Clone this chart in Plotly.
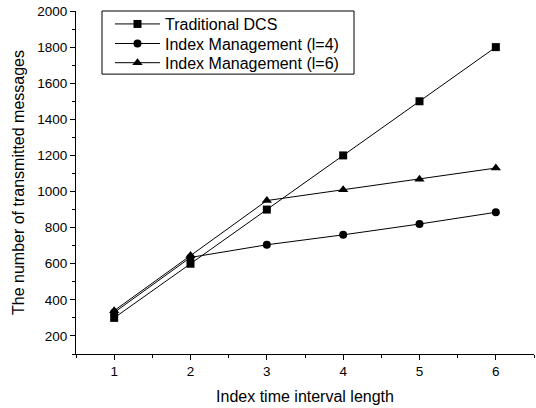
import plotly.graph_objects as go

x_vals = [1, 2, 3, 4, 5, 6]
dcs = [300, 600, 900, 1200, 1500, 1800]
im_l4 = [330, 635, 705, 760, 820, 885]
im_l6 = [340, 645, 950, 1010, 1068, 1130]
names = ["Traditional DCS", "Index Management (l=4)", "Index Management (l=6)"]
symbols = ["square", "circle", "triangle-up"]
sizes = [8, 8, 9]
legend_ids = ["legend", "legend2", "legend3"]
legend_rows_y = [0.962, 0.905, 0.849]

fig = go.Figure()
for name, ys, sym, sz, lg in zip(names, [dcs, im_l4, im_l6], symbols, sizes, legend_ids):
    fig.add_trace(go.Scatter(
        x=x_vals, y=ys, name=name, mode="lines+markers",
        line=dict(color="black", width=1),
        marker=dict(symbol=sym, size=sz, color="black"),
        legend=lg,
    ))

font = "Liberation Sans, Arial, sans-serif"

def legend_cfg(yv):
    return dict(
        x=0.0742, y=yv, xanchor="left", yanchor="middle",
        bgcolor="rgba(0,0,0,0)", borderwidth=0,
        font=dict(size=16, family=font), itemwidth=45,
    )

fig.update_layout(
    width=536, height=408,
    margin=dict(l=76, r=2, t=11, b=54),
    paper_bgcolor="white", plot_bgcolor="white",
    font=dict(family=font, color="black", size=14),
    showlegend=True,
    legend=legend_cfg(legend_rows_y[0]),
    legend2=legend_cfg(legend_rows_y[1]),
    legend3=legend_cfg(legend_rows_y[2]),
    shapes=[dict(
        type="rect", xref="paper", yref="paper",
        x0=0.0568, x1=0.607, y0=0.816, y1=1.0,
        line=dict(color="black", width=1), fillcolor="rgba(0,0,0,0)", layer="above",
    )],
    xaxis=dict(
        range=[0.5, 6.5], tickmode="linear", tick0=1, dtick=1,
        showgrid=False, zeroline=False, showline=True, linecolor="black", linewidth=1,
        ticks="outside", ticklen=5, tickwidth=1, tickcolor="black",
        tickfont=dict(size=13.5),
        minor=dict(dtick=0.5, tick0=0.5, ticks="outside", ticklen=3, tickcolor="black", showgrid=False),
        title=dict(text="Index time interval length", font=dict(size=16), standoff=12),
    ),
    yaxis=dict(
        range=[100, 2000], tickmode="linear", tick0=0, dtick=200,
        showgrid=False, zeroline=False, showline=True, linecolor="black", linewidth=1,
        ticks="outside", ticklen=5, tickwidth=1, tickcolor="black",
        tickfont=dict(size=13.5),
        minor=dict(dtick=100, tick0=0, ticks="outside", ticklen=3, tickcolor="black", showgrid=False),
        title=dict(text="The number of transmitted messages", font=dict(size=16), standoff=8),
    ),
)

fig.write_html("out.html")
